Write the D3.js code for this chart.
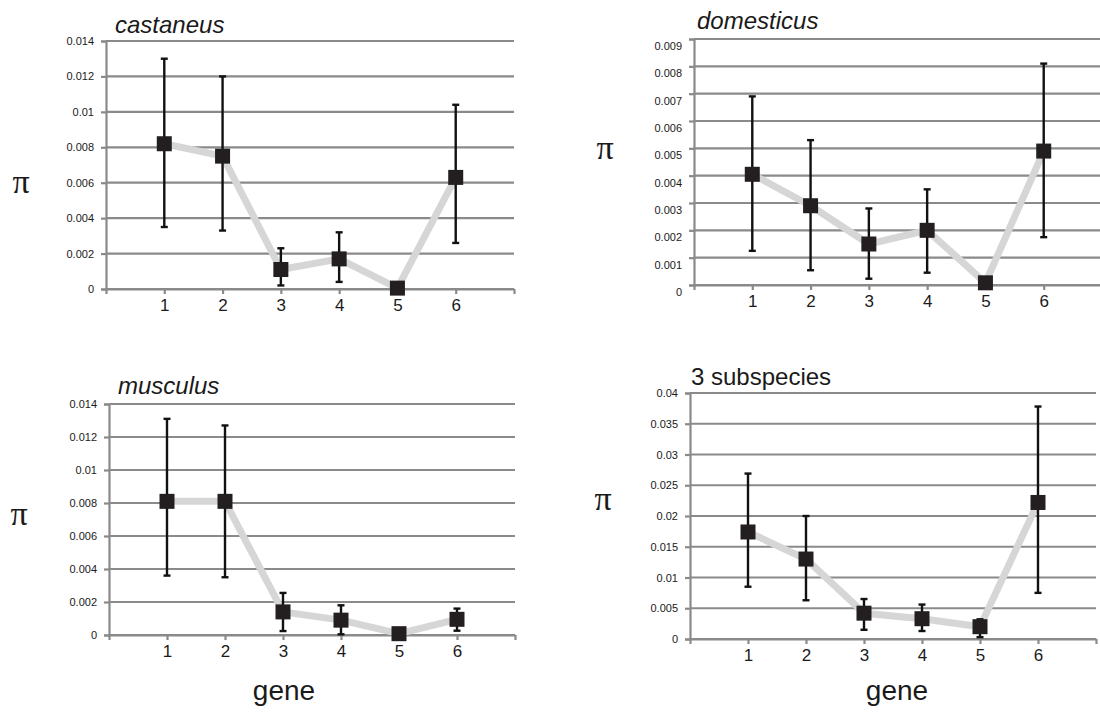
<!DOCTYPE html>
<html lang="en">
<head>
    <meta charset="UTF-8">
    <title>Nucleotide diversity per gene</title>
    <script src="https://cdnjs.cloudflare.com/ajax/libs/d3/7.8.5/d3.min.js"></script>
    <style>
        body {
            margin: 0;
            background-color: white;
        }

        svg text {
            font-family: Arial, "Liberation Sans", sans-serif;
            fill: #1a1a1a;
        }

        .grid line, .axis path, .axis line {
            stroke: #8a8a8a;
            stroke-width: 2.2;
        }

        .title {
            font-size: 24px;
        }

        .pi {
            font-family: "Liberation Serif", "DejaVu Serif", serif !important;
            font-size: 34px;
        }

        .gene-label {
            font-size: 28px;
        }
    </style>
</head>
<body>
<div id="chart"></div>
<script>
    // data
    const genes = [1, 2, 3, 4, 5, 6];

    const castaneusPi = [0.0082, 0.0075, 0.0011, 0.0017, 0.00005, 0.0063];
    const castaneusLow = [0.0035, 0.0033, 0.0002, 0.0004, 0.00005, 0.0026];
    const castaneusHigh = [0.0130, 0.0120, 0.0023, 0.0032, 0.00005, 0.0104];

    const domesticusPi = [0.00405, 0.0029, 0.0015, 0.0020, 0.00008, 0.0049];
    const domesticusLow = [0.00125, 0.00054, 0.00023, 0.00045, 0.00008, 0.00175];
    const domesticusHigh = [0.0069, 0.0053, 0.0028, 0.0035, 0.00008, 0.0081];

    const musculusPi = [0.0081, 0.0081, 0.0014, 0.0009, 0.00008, 0.00095];
    const musculusLow = [0.0036, 0.0035, 0.00024, 0.00004, 0.00008, 0.00026];
    const musculusHigh = [0.0131, 0.0127, 0.00255, 0.0018, 0.00008, 0.0016];

    const allPi = [0.0174, 0.0130, 0.0042, 0.0033, 0.0020, 0.0222];
    const allLow = [0.0085, 0.0063, 0.0015, 0.0013, 0.0003, 0.0075];
    const allHigh = [0.0269, 0.0200, 0.0065, 0.0056, 0.0032, 0.0378];

    const castaneusTicks = [0, 0.002, 0.004, 0.006, 0.008, 0.01, 0.012, 0.014];
    const domesticusTicks = [0, 0.001, 0.002, 0.003, 0.004, 0.005, 0.006, 0.007, 0.008, 0.009];
    const musculusTicks = [0, 0.002, 0.004, 0.006, 0.008, 0.01, 0.012, 0.014];
    const allTicks = [0, 0.005, 0.01, 0.015, 0.02, 0.025, 0.03, 0.035, 0.04];

    const svg = d3.select('#chart')
        .append('svg')
        .attr('width', 1100)
        .attr('height', 715);

    // one panel = one small Excel-style chart
    const panels = [
        {title: 'castaneus', italic: true, pi: castaneusPi, low: castaneusLow, high: castaneusHigh, ticks: castaneusTicks,
            x0: 106, x1: 514, top: 41, bottom: 289, labelDy: 0, titleX: 115, titleY: 33, piX: 21, piY: 183, geneX: null},
        {title: 'domesticus', italic: true, pi: domesticusPi, low: domesticusLow, high: domesticusHigh, ticks: domesticusTicks,
            x0: 694, x1: 1102, top: 39, bottom: 285, labelDy: 7, titleX: 697, titleY: 29, piX: 605, piY: 149, geneX: null},
        {title: 'musculus', italic: true, pi: musculusPi, low: musculusLow, high: musculusHigh, ticks: musculusTicks,
            x0: 109, x1: 515, top: 404, bottom: 635, labelDy: 0, titleX: 118, titleY: 394, piX: 19, piY: 515, geneX: 284},
        {title: '3 subspecies', italic: false, pi: allPi, low: allLow, high: allHigh, ticks: allTicks,
            x0: 690, x1: 1096, top: 393, bottom: 639, labelDy: 0, titleX: 691, titleY: 385, piX: 603, piY: 500, geneX: 897}
    ];

    const fmt = v => String(+v.toFixed(4));

    panels.forEach(p => {
        const g = svg.append('g');

        const x = d3.scaleLinear().domain([0, 7]).range([p.x0, p.x1]);
        const y = d3.scaleLinear().domain([0, d3.max(p.ticks)]).range([p.bottom, p.top]);

        // horizontal gridlines
        g.append('g').attr('class', 'grid')
            .selectAll('line')
            .data(p.ticks)
            .enter()
            .append('line')
            .attr('x1', p.x0).attr('x2', p.x1)
            .attr('y1', d => y(d)).attr('y2', d => y(d));

        const yAxis = d3.axisLeft(y).tickValues(p.ticks).tickSize(5).tickPadding(7).tickFormat(fmt);
        g.append('g').attr('class', 'axis')
            .attr('transform', `translate(${p.x0}, 0)`)
            .call(yAxis)
            .selectAll('text')
            .style('font-size', '11px')
            .attr('dy', (0.32 + p.labelDy / 11) + 'em');

        const xAxis = d3.axisBottom(x).tickValues(d3.range(0, 8)).tickSize(5).tickSizeOuter(0)
            .tickFormat(d => genes.includes(d) ? d : '');
        g.append('g').attr('class', 'axis')
            .attr('transform', `translate(0, ${p.bottom})`)
            .call(xAxis)
            .selectAll('text')
            .style('font-size', '17px')
            .attr('dy', '0.85em');

        const pts = genes.map((gene, i) => ({gene: gene, v: p.pi[i], lo: p.low[i], hi: p.high[i]}));

        // grey connecting line
        g.append('path')
            .datum(pts)
            .attr('fill', 'none')
            .attr('stroke', '#d6d6d6')
            .attr('stroke-width', 7)
            .attr('stroke-linejoin', 'round')
            .attr('d', d3.line().x(d => x(d.gene)).y(d => y(d.v)));

        // error bars
        const bars = g.append('g')
            .selectAll('g')
            .data(pts.filter(d => d.hi > d.lo))
            .enter()
            .append('g')
            .attr('stroke', '#111')
            .attr('stroke-width', 2.4);
        bars.append('line')
            .attr('x1', d => x(d.gene)).attr('x2', d => x(d.gene))
            .attr('y1', d => y(d.lo)).attr('y2', d => y(d.hi));
        bars.append('line')
            .attr('x1', d => x(d.gene) - 3.5).attr('x2', d => x(d.gene) + 3.5)
            .attr('y1', d => y(d.hi)).attr('y2', d => y(d.hi));
        bars.append('line')
            .attr('x1', d => x(d.gene) - 3.5).attr('x2', d => x(d.gene) + 3.5)
            .attr('y1', d => y(d.lo)).attr('y2', d => y(d.lo));

        // square markers
        const sq = 15;
        g.append('g')
            .selectAll('rect')
            .data(pts)
            .enter()
            .append('rect')
            .attr('x', d => x(d.gene) - sq / 2)
            .attr('y', d => y(d.v) - sq / 2)
            .attr('width', sq)
            .attr('height', sq)
            .attr('fill', '#231f20');

        g.append('text')
            .attr('class', 'title')
            .attr('x', p.titleX)
            .attr('y', p.titleY)
            .style('font-style', p.italic ? 'italic' : 'normal')
            .text(p.title);

        g.append('text')
            .attr('class', 'pi')
            .attr('x', p.piX)
            .attr('y', p.piY)
            .attr('text-anchor', 'middle')
            .attr('dy', '0.3em')
            .text('π');

        if (p.geneX) {
            g.append('text')
                .attr('class', 'gene-label')
                .attr('x', p.geneX)
                .attr('y', 700)
                .attr('text-anchor', 'middle')
                .text('gene');
        }
    });
</script>
</body>
</html>
